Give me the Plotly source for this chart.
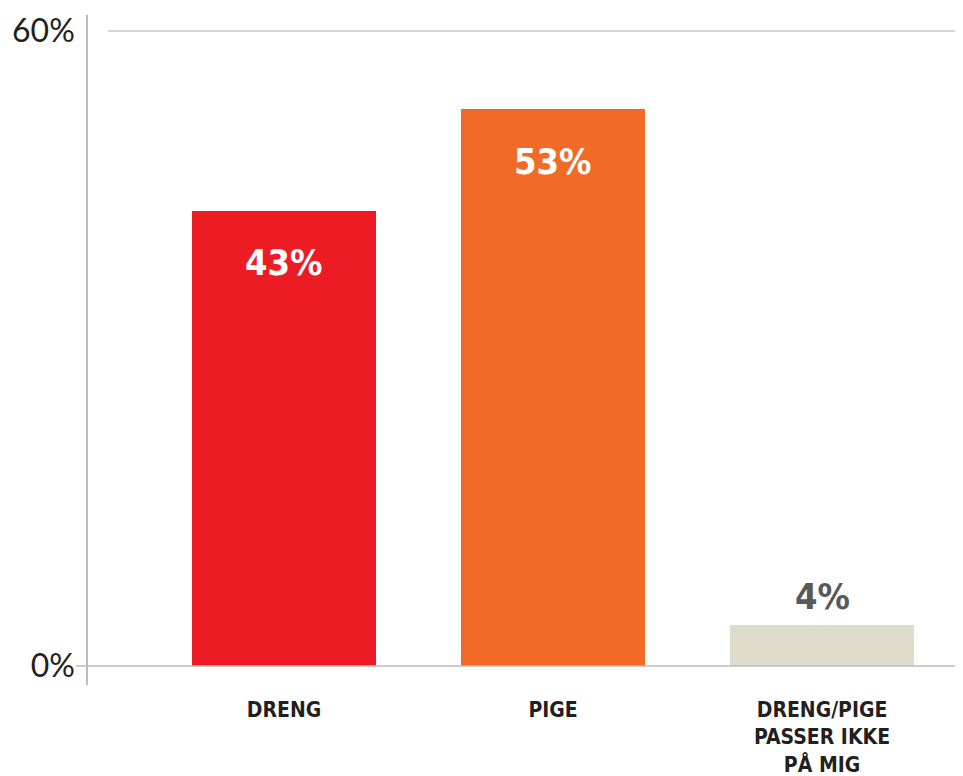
import plotly.graph_objects as go

categories = ["DRENG", "PIGE", "DRENG/PIGE<br>PASSER IKKE<br>PÅ MIG"]
values = [43, 52.6, 3.9]
value_labels = ["43%", "53%", "4%"]
bar_colors = ["#ED1C24", "#F26B26", "#DEDBCB"]
label_colors = ["#FFFFFF", "#FFFFFF", "#58595B"]
label_inside = [True, True, False]
y_ticks = [0, 60]
y_tick_text = ["0%", "60%"]

COND = "Liberation Sans Narrow, DejaVu Sans Condensed, Arial Narrow, sans-serif"

fig = go.Figure()
fig.add_trace(go.Bar(
    x=categories, y=values, marker_color=bar_colors, marker_line_width=0,
    width=0.684, hoverinfo="skip",
))

for c, v, t, col, inside in zip(categories, values, value_labels, label_colors, label_inside):
    fig.add_annotation(
        x=c, y=v, text=f"<b>{t}</b>", showarrow=False,
        yshift=-52 if inside else 28, yanchor="middle",
        font=dict(family=COND, size=36, color=col),
    )

# gridline at 60% and baseline at 0%
fig.add_shape(type="line", xref="paper", yref="y", x0=0.0229, x1=1, y0=60, y1=60,
              line=dict(color="#C8C8C8", width=1.5))
fig.add_shape(type="line", xref="paper", yref="y", x0=-0.0137, x1=1, y0=0, y1=0,
              line=dict(color="#BDBDBD", width=1.5))

fig.update_layout(
    width=955, height=768,
    margin=dict(l=80, r=0, t=7, b=91),
    paper_bgcolor="white", plot_bgcolor="white",
    showlegend=False,
    bargap=0,
    xaxis=dict(
        range=[-0.729, 2.524], showgrid=False, showline=False, zeroline=False,
        ticks="", tickfont=dict(family=COND, size=21, color="#231F20", weight="bold"),
        ticklabelstandoff=10,
        tickangle=0, fixedrange=True,
    ),
    yaxis=dict(
        range=[-1.795, 61.51], tickvals=y_ticks, ticktext=y_tick_text,
        showgrid=False, zeroline=False, showline=True, linecolor="#BDBDBD", linewidth=1.5,
        ticks="", ticklabelstandoff=5,
        tickfont=dict(family="Lato, sans-serif", size=32, color="#231F20"),
        fixedrange=True,
    ),
)

fig.write_html("out.html")
